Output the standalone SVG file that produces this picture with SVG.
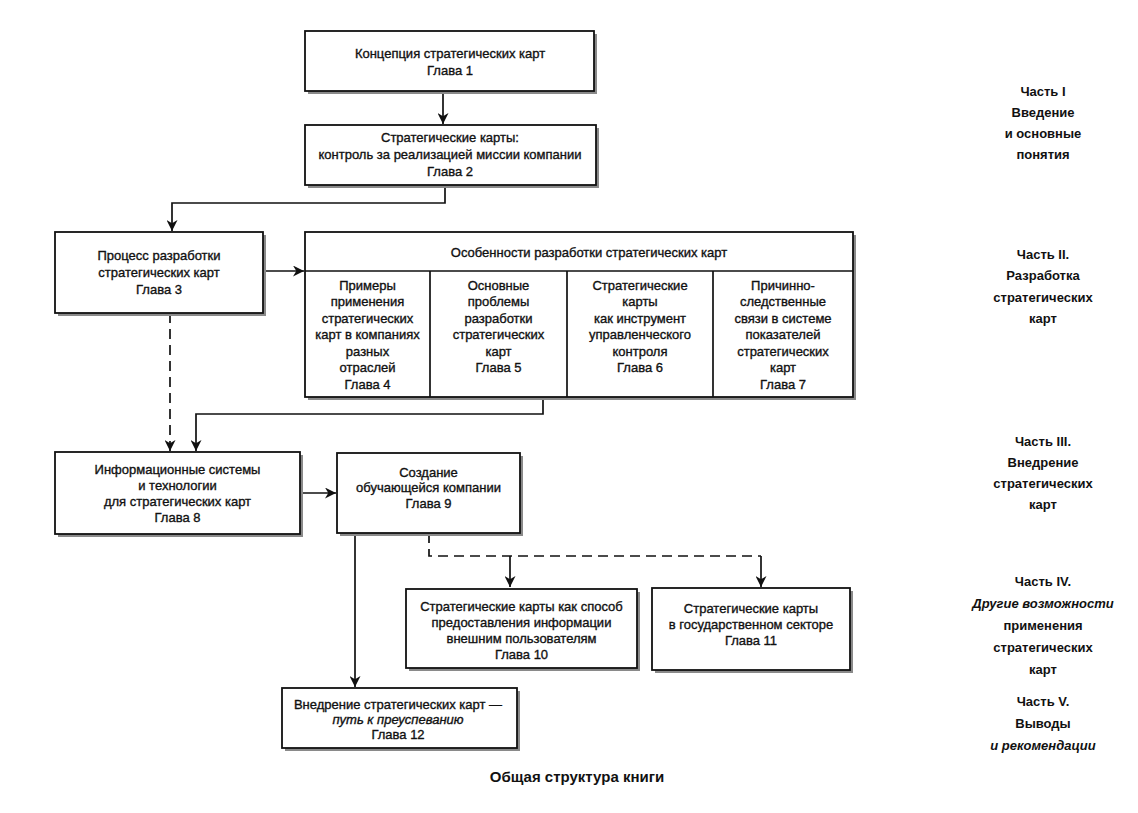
<svg xmlns="http://www.w3.org/2000/svg" width="1138" height="813" viewBox="0 0 1138 813">
<style>
.box{fill:#fff;stroke:#111;stroke-width:1.8}
.sh{fill:#8a8a8a}
.t{font-family:"Liberation Sans",Arial,sans-serif;font-size:13px;fill:#111;stroke:#111;stroke-width:0.35;text-anchor:middle}
.p{font-family:"Liberation Sans",Arial,sans-serif;font-size:13px;font-weight:bold;fill:#111;text-anchor:middle}
.cap{font-family:"Liberation Sans",Arial,sans-serif;font-size:15px;font-weight:bold;fill:#111;text-anchor:middle}
.c{fill:none;stroke:#111;stroke-width:1.7}
.d{stroke-dasharray:10 6}
.i{font-style:italic}
</style>
<defs>
<marker id="ah" viewBox="0 0 10 10" refX="10" refY="5" markerWidth="11" markerHeight="11" markerUnits="userSpaceOnUse" orient="auto">
<path d="M0,0 L10,5 L0,10 L3,5 z" fill="#111"/>
</marker>
</defs>
<rect width="1138" height="813" fill="#fff"/>

<g id="connectors">
<path class="c" d="M443,91 V124" marker-end="url(#ah)"/>
<path class="c" d="M445,185 V203 H172 V231" marker-end="url(#ah)"/>
<path class="c" d="M263,271 H304" marker-end="url(#ah)"/>
<path class="c d" d="M170,313 V451" marker-end="url(#ah)"/>
<path class="c" d="M543,397 V414 H196 V451" marker-end="url(#ah)"/>
<path class="c" d="M300,493 H336" marker-end="url(#ah)"/>
<path class="c" d="M355,533 V687" marker-end="url(#ah)"/>
<path class="c d" d="M429,533 V556 H761"/>
<path class="c" d="M510,556 V587" marker-end="url(#ah)"/>
<path class="c" d="M761,556 V587" marker-end="url(#ah)"/>
</g>

<g id="ch1">
<rect class="sh" x="308" y="34" width="289" height="60"/>
<rect class="box" x="305" y="31" width="289" height="60"/>
<text class="t" x="450" y="58">Концепция стратегических карт</text>
<text class="t" x="450" y="75">Глава 1</text>
</g>

<g id="ch2">
<rect class="sh" x="308" y="128" width="291" height="60"/>
<rect class="box" x="305" y="125" width="291" height="60"/>
<text class="t" x="450" y="142">Стратегические карты:</text>
<text class="t" x="450" y="159">контроль за реализацией миссии компании</text>
<text class="t" x="450" y="176">Глава 2</text>
</g>

<g id="ch3">
<rect class="sh" x="58" y="235" width="208" height="81"/>
<rect class="box" x="55" y="232" width="208" height="81"/>
<text class="t" x="159" y="260">Процесс разработки</text>
<text class="t" x="159" y="277">стратегических карт</text>
<text class="t" x="159" y="294">Глава 3</text>
</g>

<g id="features">
<rect class="sh" x="308" y="235" width="548" height="165"/>
<rect class="box" x="305" y="232" width="548" height="165"/>
<path class="c" d="M305,271 H853 M430,271 V397 M567,271 V397 M713,271 V397"/>
<text class="t" x="589" y="257">Особенности разработки стратегических карт</text>
</g>

<g id="ch4">
<text class="t" x="367.5" y="289.5">Примеры</text>
<text class="t" x="367.5" y="306">применения</text>
<text class="t" x="367.5" y="322.5">стратегических</text>
<text class="t" x="367.5" y="339">карт в компаниях</text>
<text class="t" x="367.5" y="355.5">разных</text>
<text class="t" x="367.5" y="372">отраслей</text>
<text class="t" x="367.5" y="388.5">Глава 4</text>
</g>

<g id="ch5">
<text class="t" x="498.5" y="289.5">Основные</text>
<text class="t" x="498.5" y="306">проблемы</text>
<text class="t" x="498.5" y="322.5">разработки</text>
<text class="t" x="498.5" y="339">стратегических</text>
<text class="t" x="498.5" y="355.5">карт</text>
<text class="t" x="498.5" y="372">Глава 5</text>
</g>

<g id="ch6">
<text class="t" x="640" y="289.5">Стратегические</text>
<text class="t" x="640" y="306">карты</text>
<text class="t" x="640" y="322.5">как инструмент</text>
<text class="t" x="640" y="339">управленческого</text>
<text class="t" x="640" y="355.5">контроля</text>
<text class="t" x="640" y="372">Глава 6</text>
</g>

<g id="ch7">
<text class="t" x="783" y="289.5">Причинно-</text>
<text class="t" x="783" y="306">следственные</text>
<text class="t" x="783" y="322.5">связи в системе</text>
<text class="t" x="783" y="339">показателей</text>
<text class="t" x="783" y="355.5">стратегических</text>
<text class="t" x="783" y="372">карт</text>
<text class="t" x="783" y="388.5">Глава 7</text>
</g>

<g id="ch8">
<rect class="sh" x="58" y="455" width="245" height="82"/>
<rect class="box" x="55" y="452" width="245" height="82"/>
<text class="t" x="177.5" y="474">Информационные системы</text>
<text class="t" x="177.5" y="490">и технологии</text>
<text class="t" x="177.5" y="506">для стратегических карт</text>
<text class="t" x="177.5" y="522">Глава 8</text>
</g>

<g id="ch9">
<rect class="sh" x="340" y="456" width="183" height="80"/>
<rect class="box" x="337" y="453" width="183" height="80"/>
<text class="t" x="428.5" y="477">Создание</text>
<text class="t" x="428.5" y="492">обучающейся компании</text>
<text class="t" x="428.5" y="508">Глава 9</text>
</g>

<g id="ch10">
<rect class="sh" x="409" y="592" width="231" height="79"/>
<rect class="box" x="406" y="589" width="231" height="79"/>
<text class="t" x="521.5" y="611">Стратегические карты как способ</text>
<text class="t" x="521.5" y="627">предоставления информации</text>
<text class="t" x="521.5" y="643">внешним пользователям</text>
<text class="t" x="521.5" y="659">Глава 10</text>
</g>

<g id="ch11">
<rect class="sh" x="655" y="591" width="198" height="82"/>
<rect class="box" x="652" y="588" width="198" height="82"/>
<text class="t" x="751" y="613">Стратегические карты</text>
<text class="t" x="751" y="629">в государственном секторе</text>
<text class="t" x="751" y="645">Глава 11</text>
</g>

<g id="ch12">
<rect class="sh" x="285" y="691" width="235" height="60"/>
<rect class="box" x="282" y="688" width="235" height="60"/>
<text class="t" x="398" y="709">Внедрение стратегических карт —</text>
<text class="t i" x="398" y="724">путь к  преуспеванию</text>
<text class="t" x="398" y="739">Глава 12</text>
</g>

<g id="parts">
<text class="p" x="1043" y="96">Часть I</text>
<text class="p" x="1043" y="117">Введение</text>
<text class="p" x="1043" y="138">и основные</text>
<text class="p" x="1043" y="159">понятия</text>

<text class="p" x="1043" y="259">Часть II.</text>
<text class="p" x="1043" y="280">Разработка</text>
<text class="p" x="1043" y="302">стратегических</text>
<text class="p" x="1043" y="323">карт</text>

<text class="p" x="1043" y="446">Часть III.</text>
<text class="p" x="1043" y="467">Внедрение</text>
<text class="p" x="1043" y="488">стратегических</text>
<text class="p" x="1043" y="509">карт</text>

<text class="p" x="1043" y="586">Часть IV.</text>
<text class="p i" x="1043" y="608">Другие возможности</text>
<text class="p" x="1043" y="630">применения</text>
<text class="p" x="1043" y="652">стратегических</text>
<text class="p" x="1043" y="674">карт</text>

<text class="p" x="1043" y="706">Часть V.</text>
<text class="p" x="1043" y="728">Выводы</text>
<text class="p i" x="1043" y="750">и рекомендации</text>
</g>

<text class="cap" x="577" y="782">Общая структура книги</text>
</svg>
